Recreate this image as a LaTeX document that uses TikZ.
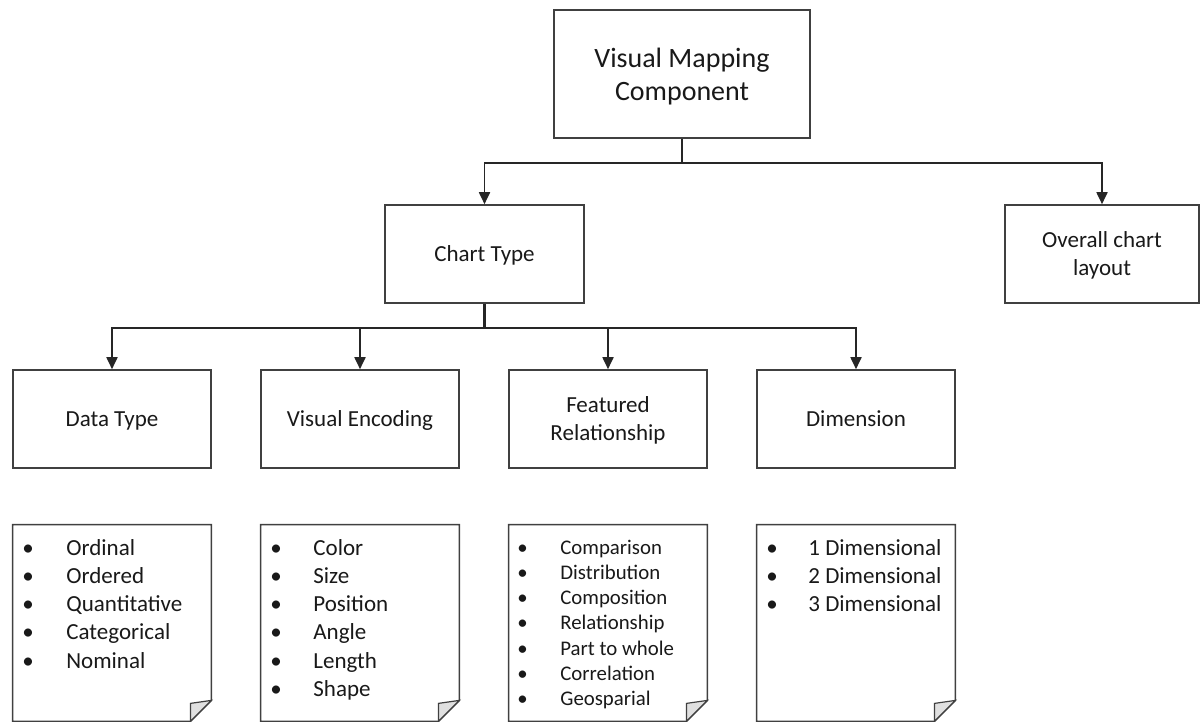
\documentclass[tikz,border=0pt]{standalone}
\usepackage{fontspec}
\setmainfont{Carlito}
\usetikzlibrary{arrows.meta,calc}

\begin{document}
\begin{tikzpicture}[x=0.5pt,y=-0.5pt,
  box/.style={draw=black!75, line width=0.8pt, fill=white, inner sep=0pt,
              align=center, text=black!90, text depth=0pt},
  lbl/.style={font=\fontsize{11.5}{14}\selectfont},
  link/.style={draw=black!85, line width=0.9pt},
  arr/.style={link, -{Triangle[width=5.5pt,length=6pt]}},
  notebox/.style={inner sep=0pt, minimum width=99pt, minimum height=98pt},
  noteline/.style={draw=black!75, line width=0.8pt, fill=white},
  fold/.style={draw=black!75, line width=0.6pt, fill=black!12},
  list/.style={anchor=base west, inner sep=0pt, text=black!90,
               font=\fontsize{11.5}{14.15}\selectfont},
  smalllist/.style={list, font=\fontsize{10.4}{12.65}\selectfont},
]
\useasboundingbox (0,0) rectangle (1200,722);

% top level
\node[box, minimum width=128pt, minimum height=64pt,
      font=\fontsize{14}{16.5}\selectfont] (vmc) at (682,74) {Visual Mapping\\Component};

% second level
\node[box, lbl, minimum width=99.5pt, minimum height=49pt] (ct) at (484.5,254) {Chart Type};
\node[box, lbl, minimum width=97pt, minimum height=49pt] (ocl) at (1102,254) {Overall chart\\layout};

% third level
\node[box, lbl, minimum width=99pt, minimum height=49pt] (dt) at (112,419) {Data Type};
\node[box, lbl, minimum width=99pt, minimum height=49pt] (ve) at (360,419) {Visual Encoding};
\node[box, lbl, minimum width=99pt, minimum height=49pt] (fr) at (608,419) {Featured\\Relationship};
\node[box, lbl, minimum width=99pt, minimum height=49pt] (dim) at (856,419) {Dimension};

% connectors
\coordinate (j1) at (682,163);
\draw[link] (vmc.south) -- (j1);
\draw[arr] (j1) -| (ct.north);
\draw[arr] (j1) -| (ocl.north);

\coordinate (j2) at (484.5,328);
\draw[link, line width=1.3pt] (ct.south) -- (j2);
\draw[arr] (j2) -| (dt.north);
\draw[arr] (j2) -| (ve.north);
\draw[arr] (j2) -| (fr.north);
\draw[arr] (j2) -| (dim.north);

% notes with a folded corner
\foreach \n/\x in {n1/112, n2/360, n3/608, n4/856} {
  \node[notebox] (\n) at (\x,623) {};
  \draw[noteline] (\n.north west) -- (\n.north east)
     -- ($(\n.south east)+(0,-21)$) -- ($(\n.south east)+(-21,0)$)
     -- (\n.south west) -- cycle;
  \draw[fold] ($(\n.south east)+(0,-21)$) -- ($(\n.south east)+(-21,-18)$)
     -- ($(\n.south east)+(-21,0)$) -- cycle;
}

% note contents
\node[list] (l1) at (22,555) {\begin{tabular}[t]{@{}l@{}}
  \makebox[22pt][l]{\textbullet}Ordinal\\
  \makebox[22pt][l]{\textbullet}Ordered\\
  \makebox[22pt][l]{\textbullet}Quantitative\\
  \makebox[22pt][l]{\textbullet}Categorical\\
  \makebox[22pt][l]{\textbullet}Nominal
\end{tabular}};

\node[list] (l2) at (270,555) {\begin{tabular}[t]{@{}l@{}}
  \makebox[21.5pt][l]{\textbullet}Color\\
  \makebox[21.5pt][l]{\textbullet}Size\\
  \makebox[21.5pt][l]{\textbullet}Position\\
  \makebox[21.5pt][l]{\textbullet}Angle\\
  \makebox[21.5pt][l]{\textbullet}Length\\
  \makebox[21.5pt][l]{\textbullet}Shape
\end{tabular}};

\node[smalllist] (l3) at (517,554) {\begin{tabular}[t]{@{}l@{}}
  \makebox[21.5pt][l]{\textbullet}Comparison\\
  \makebox[21.5pt][l]{\textbullet}Distribution\\
  \makebox[21.5pt][l]{\textbullet}Composition\\
  \makebox[21.5pt][l]{\textbullet}Relationship\\
  \makebox[21.5pt][l]{\textbullet}Part to whole\\
  \makebox[21.5pt][l]{\textbullet}Correlation\\
  \makebox[21.5pt][l]{\textbullet}Geosparial
\end{tabular}};

\node[list] (l4) at (766,555) {\begin{tabular}[t]{@{}l@{}}
  \makebox[21pt][l]{\textbullet}1 Dimensional\\
  \makebox[21pt][l]{\textbullet}2 Dimensional\\
  \makebox[21pt][l]{\textbullet}3 Dimensional
\end{tabular}};

\end{tikzpicture}
\end{document}
